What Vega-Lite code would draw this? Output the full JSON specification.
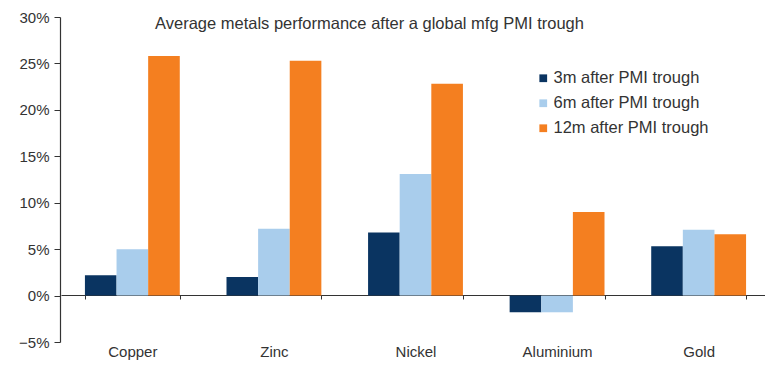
{
  "$schema": "https://vega.github.io/schema/vega-lite/v6.json",
  "autosize": "none",
  "width": 705,
  "height": 325,
  "padding": {"left": 60, "top": 17, "right": 0, "bottom": 27},
  "background": "white",
  "title": {
    "text": "Average metals performance after a global mfg PMI trough",
    "anchor": "start",
    "frame": "group",
    "orient": "top",
    "offset": 0,
    "baseline": "alphabetic",
    "dx": 95,
    "dy": 35,
    "font": "Liberation Sans",
    "fontSize": 16.5,
    "fontWeight": "normal",
    "color": "#333333"
  },
  "config": {
    "view": {"stroke": null},
    "font": "Liberation Sans"
  },
  "data": {
    "values": [
      {"metal": "Copper", "period": "3m after PMI trough", "value": 0.022},
      {"metal": "Copper", "period": "6m after PMI trough", "value": 0.050},
      {"metal": "Copper", "period": "12m after PMI trough", "value": 0.258},
      {"metal": "Zinc", "period": "3m after PMI trough", "value": 0.020},
      {"metal": "Zinc", "period": "6m after PMI trough", "value": 0.072},
      {"metal": "Zinc", "period": "12m after PMI trough", "value": 0.253},
      {"metal": "Nickel", "period": "3m after PMI trough", "value": 0.068},
      {"metal": "Nickel", "period": "6m after PMI trough", "value": 0.131},
      {"metal": "Nickel", "period": "12m after PMI trough", "value": 0.228},
      {"metal": "Aluminium", "period": "3m after PMI trough", "value": -0.018},
      {"metal": "Aluminium", "period": "6m after PMI trough", "value": -0.018},
      {"metal": "Aluminium", "period": "12m after PMI trough", "value": 0.090},
      {"metal": "Gold", "period": "3m after PMI trough", "value": 0.053},
      {"metal": "Gold", "period": "6m after PMI trough", "value": 0.071},
      {"metal": "Gold", "period": "12m after PMI trough", "value": 0.066}
    ]
  },
  "mark": {"type": "bar"},
  "encoding": {
    "x": {
      "field": "metal",
      "type": "nominal",
      "sort": ["Copper", "Zinc", "Nickel", "Aluminium", "Gold"],
      "scale": {"paddingInner": 0.33, "paddingOuter": 0.169, "range": [1, 710]},
      "axis": {
        "title": null,
        "orient": "bottom",
        "offset": -47,
        "domainColor": "#333333",
        "domainWidth": 1.2,
        "ticks": true,
        "tickBand": "extent",
        "tickSize": 4,
        "tickColor": "#333333",
        "labelPadding": 45,
        "labelAngle": 0,
        "labelFont": "Liberation Sans",
        "labelFontSize": 15,
        "labelColor": "#333333",
        "grid": false
      }
    },
    "xOffset": {
      "field": "period",
      "type": "nominal",
      "sort": ["3m after PMI trough", "6m after PMI trough", "12m after PMI trough"],
      "scale": {"paddingInner": 0, "paddingOuter": 0}
    },
    "y": {
      "field": "value",
      "type": "quantitative",
      "scale": {"domain": [-0.05, 0.30], "nice": false, "zero": false},
      "axis": {
        "title": null,
        "format": ".0%",
        "values": [-0.05, 0, 0.05, 0.10, 0.15, 0.20, 0.25, 0.30],
        "grid": false,
        "domainColor": "#333333",
        "domainWidth": 1.2,
        "tickColor": "#333333",
        "tickSize": 6,
        "labelPadding": 5,
        "labelFont": "Liberation Sans",
        "labelFontSize": 15,
        "labelColor": "#333333"
      }
    },
    "color": {
      "field": "period",
      "type": "nominal",
      "sort": ["3m after PMI trough", "6m after PMI trough", "12m after PMI trough"],
      "scale": {
        "domain": ["3m after PMI trough", "6m after PMI trough", "12m after PMI trough"],
        "range": ["#0a3461", "#a9cdec", "#f47f20"]
      },
      "legend": {
        "title": null,
        "orient": "none",
        "legendX": 475,
        "legendY": 53,
        "symbolType": "square",
        "symbolSize": 60,
        "symbolStrokeWidth": 0,
        "labelFont": "Liberation Sans",
        "labelFontSize": 16.5,
        "labelColor": "#333333",
        "labelOffset": 2,
        "rowPadding": 8,
        "padding": 0
      }
    }
  }
}
